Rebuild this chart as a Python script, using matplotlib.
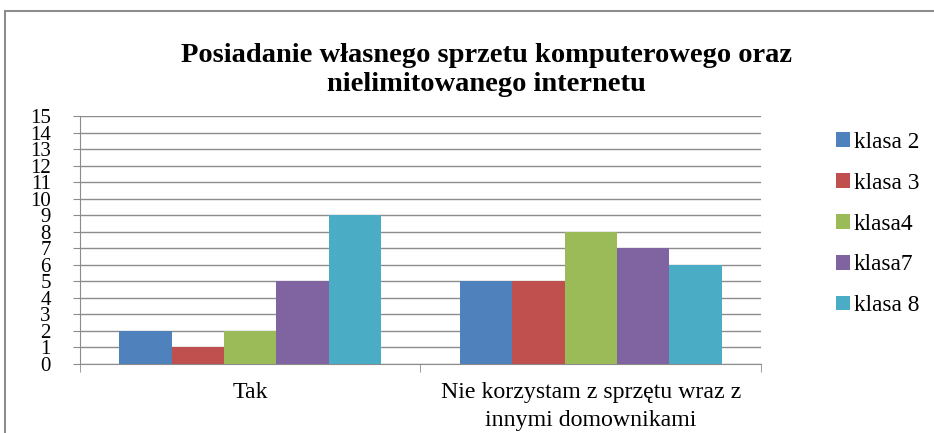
import numpy as np
import matplotlib.pyplot as plt
from matplotlib.patches import Rectangle

plt.rcParams['font.family'] = ['Liberation Serif', 'DejaVu Serif']

categories = ['Tak', 'Nie korzystam z sprzętu wraz z\ninnymi domownikami']
series = ['klasa 2', 'klasa 3', 'klasa4', 'klasa7', 'klasa 8']
values = [
    [2, 5],
    [1, 5],
    [2, 8],
    [5, 7],
    [9, 6],
]
colors = ['#4F81BD', '#C0504D', '#9BBB59', '#8064A2', '#4BACC6']
title = 'Posiadanie własnego sprzetu komputerowego oraz\nnielimitowanego internetu'

W, H = 934, 433
fig = plt.figure(figsize=(W / 100, H / 100), dpi=100)

# outer chart frame (cut at right and bottom)
fig.patches.append(Rectangle((5 / W, -0.1), 1.2, 1 - 11 / H + 0.1, transform=fig.transFigure,
                             fill=False, edgecolor='#8c8c8c', linewidth=1.5))

ax = fig.add_axes([80 / W, (H - 364) / H, (761 - 80) / W, (364 - 116) / H])

x = np.arange(len(categories))
w = 1 / 6.5
for i, (name, vals) in enumerate(zip(series, values)):
    ax.bar(x - 2 * w + i * w, vals, w, color=colors[i], label=name, zorder=3)

ax.set_xlim(-0.5, 1.5)
ax.set_ylim(0, 15)
ax.set_yticks(range(16))
ax.yaxis.grid(True, color='#8c8c8c', linewidth=1)
ax.set_axisbelow(True)
for s in ['top', 'right']:
    ax.spines[s].set_visible(False)
for s in ['left', 'bottom']:
    ax.spines[s].set_color('#8c8c8c')
ax.tick_params(axis='y', length=5, color='#8c8c8c', pad=16, labelsize=15)
ax.set_xticks(x)
ax.set_xticklabels(categories, fontsize=17.2, linespacing=1.45)
ax.tick_params(axis='x', which='major', length=0, pad=13)
ax.set_xticks([-0.5, 0.5, 1.5], minor=True)
ax.tick_params(axis='x', which='minor', length=6, color='#8c8c8c')

fig.text(486 / W, 1 - 70 / H, title, ha='center', va='center', fontsize=20.5,
         fontweight='bold', linespacing=1.25)

ax.legend(loc='center left', bbox_to_anchor=(815 / W, 1 - 224 / H), bbox_transform=fig.transFigure,
          frameon=False, fontsize=16.8, handlelength=0.6, handleheight=0.6, handletextpad=0.15,
          labelspacing=0.85)

fig.savefig('out.png', dpi=100)
